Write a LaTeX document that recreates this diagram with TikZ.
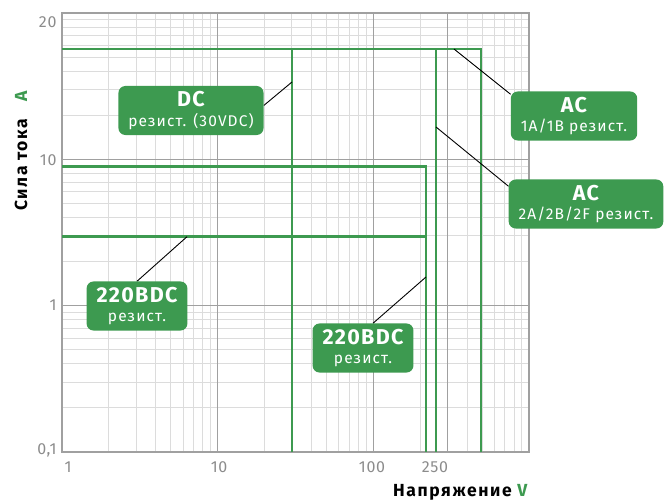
\documentclass[tikz,border=0pt]{standalone}
\usepackage{fontspec}
\setmainfont{Fira Sans}
\usetikzlibrary{backgrounds}
\definecolor{relaygreen}{HTML}{3D9A50}
\definecolor{gridlight}{HTML}{DCDCDC}
\definecolor{gridmajor}{HTML}{A0A0A0}
\definecolor{ticktext}{HTML}{8C8C8C}
\newcommand{\boxtitle}{\bfseries\fontsize{21.5}{22}\selectfont\addfontfeatures{LetterSpace=6}}

\begin{document}
\begin{tikzpicture}[x=1pt, y=1pt,
    labelbox/.style={fill=relaygreen, text=white, rounded corners=7pt, align=center,
        inner xsep=10pt, inner ysep=5.5pt, font=\fontsize{15.5}{19.5}\selectfont\addfontfeatures{LetterSpace=7}},
    limit/.style={relaygreen, line width=2.6pt},
    pointer/.style={black, line width=0.9pt},
    ticklabel/.style={text=ticktext, font=\fontsize{16}{16}\selectfont\addfontfeatures{LetterSpace=4}},
    axistitle/.style={font=\bfseries\fontsize{17.5}{18}\selectfont\addfontfeatures{LetterSpace=9}}]
\useasboundingbox (0,0) rectangle (666,501);

% labels on the curves
\node[labelbox] (dcBox) at (191,390.5) {{\boxtitle DC}\\резист. (30VDC)};
\node[labelbox] (ac1Box) at (574,385) {{\boxtitle AC}\\1A/1B резист.};
\node[labelbox] (ac2Box) at (586,297) {{\boxtitle AC}\\2A/2B/2F резист.};
\node[labelbox] (l220Box) at (137,195) {{\boxtitle 220BDC}\\резист.};
\node[labelbox] (b220Box) at (363,153) {{\boxtitle 220BDC}\\резист.};

\begin{scope}[on background layer]
    % log grid, 3 decades each way
    \foreach \d in {0,1,2}
        \foreach \m in {2,...,9} {
            \draw[gridlight, line width=1pt] ({62+155.7*(\d+log10(\m))},49) -- ++(0,439);
            \draw[gridlight, line width=1pt] (62,{49+146.3*(\d+log10(\m))}) -- ++(467,0);
        }
    \foreach \xm in {217.7,373.4,447.7}
        \draw[gridmajor, line width=1.2pt] (\xm,49) -- (\xm,488);
    \foreach \ym in {195.3,341.6}
        \draw[gridmajor, line width=1.2pt] (62,\ym) -- (529,\ym);
    \draw[gridmajor, line width=1.3pt] (62,49) rectangle (529,488);

    % load limits
    \draw[limit] (62,452) -- (481,452) -- (481,49);
    \draw[limit] (292,452) -- (292,49);
    \draw[limit] (436,452) -- (436,49);
    \draw[limit] (62,334.3) -- (426,334.3) -- (426,49);
    \draw[limit] (62,264.3) -- (426,264.3);

    \coordinate (dcTip) at (292,419);
    \coordinate (ac1Tip) at (454,452);
    \coordinate (ac2Tip) at (436,374);
    \coordinate (l220Tip) at (187,264.3);
    \coordinate (b220Tip) at (426,224);

    \draw[pointer] ([yshift=5pt]dcBox.east) -- (dcTip);
    \draw[pointer] ([yshift=-3pt]ac1Box.north west) -- (ac1Tip);
    \draw[pointer] ([yshift=-7pt]ac2Box.north west) -- (ac2Tip);
    \draw[pointer] (l220Box.north) -- (l220Tip);
    \draw[pointer] ([xshift=10pt]b220Box.north) -- (b220Tip);
\end{scope}

% axes
\foreach \val/\ypos in {20/479, 10/341, 1/196, {0,1}/51}
    \node[ticklabel, anchor=east] (yt\ypos) at (60,\ypos) {\val};
\foreach \val/\xpos in {1/68, 10/219, 100/372, 250/435}
    \node[ticklabel] (xt\xpos) at (\xpos,34) {\val};

\node[axistitle, rotate=90] (ylab) at (21,350) {Сила тока\quad\textcolor{relaygreen}{A}};
\node[axistitle, anchor=east] (xlab) at (531,9) {Напряжение \textcolor{relaygreen}{V}};
\end{tikzpicture}
\end{document}
